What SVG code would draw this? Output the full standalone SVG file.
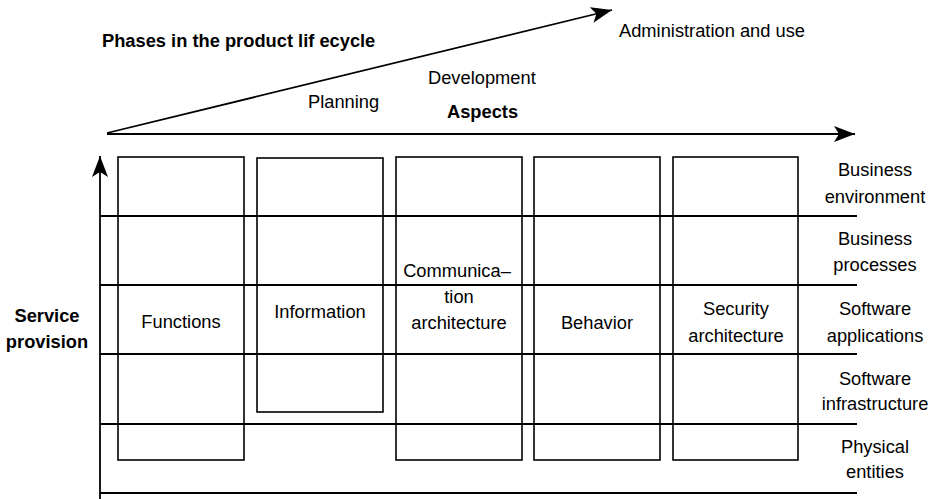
<svg xmlns="http://www.w3.org/2000/svg" width="936" height="499" viewBox="0 0 936 499">
  <style>
    text { font-family: "Liberation Sans", Arial, sans-serif; font-size: 18.3px; fill: #000; }
    .b { font-weight: bold; }
    .m { text-anchor: middle; }
    .ln { stroke: #000; stroke-width: 1.8; fill: none; }
    .box { stroke: #000; stroke-width: 1.6; fill: none; }
  </style>
  <defs>
    <marker id="arrow" viewBox="0 0 22 18" refX="21" refY="9" markerWidth="22" markerHeight="18" markerUnits="userSpaceOnUse" orient="auto">
      <path d="M0,1 L21,9 L0,17 L5,9 Z" fill="#000"/>
    </marker>
  </defs>

  <rect width="936" height="499" fill="#fff"/>

  <!-- axes and layer lines -->
  <g id="connectors">
    <line class="ln" x1="107" y1="133" x2="612" y2="10" marker-end="url(#arrow)"/>
    <line class="ln" x1="107" y1="134" x2="855" y2="134" marker-end="url(#arrow)"/>
    <line class="ln" x1="100" y1="499" x2="100" y2="156" marker-end="url(#arrow)"/>
    <line class="ln" x1="100" y1="216" x2="857" y2="216"/>
    <line class="ln" x1="100" y1="285" x2="857" y2="285"/>
    <line class="ln" x1="100" y1="354" x2="857" y2="354"/>
    <line class="ln" x1="100" y1="424" x2="857" y2="424"/>
    <line class="ln" x1="100" y1="493" x2="857" y2="493"/>
  </g>

  <!-- axis titles and phase labels -->
  <g id="labels">
    <text class="b" x="102" y="47">Phases in the product lif ecycle</text>
    <text x="619" y="37">Administration and use</text>
    <text x="428" y="84">Development</text>
    <text x="308" y="108">Planning</text>
    <text class="b" x="447" y="118">Aspects</text>
    <text class="b m" x="47" y="322">Service</text>
    <text class="b m" x="47" y="348">provision</text>
  </g>

  <!-- aspect columns -->
  <g id="functions">
    <rect class="box" x="118" y="157" width="126" height="303"/>
    <text class="m" x="181" y="328">Functions</text>
  </g>
  <g id="information">
    <rect class="box" x="257" y="158" width="126" height="254"/>
    <text class="m" x="320" y="318">Information</text>
  </g>
  <g id="communication">
    <rect class="box" x="396" y="157" width="126" height="303"/>
    <text class="m" x="457" y="277">Communica–</text>
    <text class="m" x="459" y="303">tion</text>
    <text class="m" x="459" y="329">architecture</text>
  </g>
  <g id="behavior">
    <rect class="box" x="534" y="157" width="126" height="303"/>
    <text class="m" x="597" y="329">Behavior</text>
  </g>
  <g id="security">
    <rect class="box" x="673" y="157" width="125" height="303"/>
    <text class="m" x="736" y="315">Security</text>
    <text class="m" x="736" y="342">architecture</text>
  </g>

  <!-- layer names -->
  <g id="layers">
    <text class="m" x="875" y="176">Business</text>
    <text class="m" x="875" y="203">environment</text>
    <text class="m" x="875" y="245">Business</text>
    <text class="m" x="875" y="271">processes</text>
    <text class="m" x="875" y="315">Software</text>
    <text class="m" x="875" y="342">applications</text>
    <text class="m" x="875" y="385">Software</text>
    <text class="m" x="875" y="410">infrastructure</text>
    <text class="m" x="875" y="453">Physical</text>
    <text class="m" x="875" y="478">entities</text>
  </g>
</svg>
